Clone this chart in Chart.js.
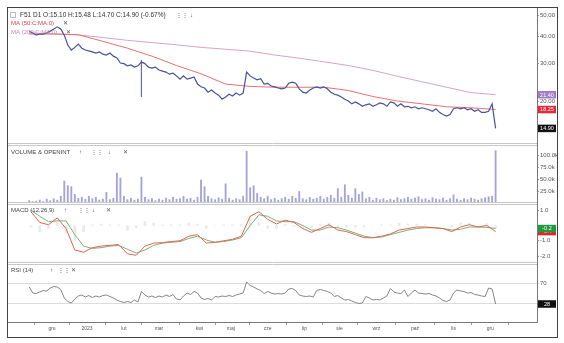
<!DOCTYPE html>
<html>
<head>
<meta charset="utf-8">
<script src="https://cdn.jsdelivr.net/npm/chart.js@4/dist/chart.umd.min.js"></script>
<style>
  html, body { margin: 0; padding: 0; background: #fff; }
  canvas { display: block; }
</style>
</head>
<body>
<canvas id="chart" width="564" height="343"></canvas>
<script>
// x axis = trading day index (0 = mid Nov 2022)
const priceStep = 2;
const price = [
  42.4, 41.6, 40.6, 41.1, 41.1, 41.6, 42.4, 43.4, 44.4, 43.4,
  40.6, 36.5, 34.6, 35.6, 36.9, 35.3, 34.6, 34.3, 33.9, 33.5,
  33.9, 33.1, 32.8, 33.5, 32.4, 31.8, 30.1, 29.9, 29.2, 29.5,
  28.8, 29.2, 30.4, 29.9, 28.8, 28.5, 28.8, 27.9, 27.6, 27.3,
  26.7, 27.0, 26.2, 25.3, 26.2, 25.3, 25.6, 25.9, 24.0, 23.3,
  23.0, 22.0, 22.5, 21.8, 21.3, 20.4, 20.9, 21.5, 21.1, 21.8,
  21.3, 21.8, 27.3, 26.2, 25.6, 25.1, 25.4, 24.0, 24.2, 23.5,
  23.3, 23.0, 22.8, 23.0, 24.2, 24.5, 24.2, 22.8, 22.0, 21.8,
  22.5, 23.0, 23.3, 23.0, 23.3, 22.8, 22.0, 21.5, 21.3, 20.9,
  20.4, 20.0, 19.4, 19.8, 19.4, 18.9, 19.2, 19.4, 18.9, 19.2,
  19.6, 19.4, 18.9, 19.8, 19.6, 18.9, 19.4, 18.8, 18.9, 18.6,
  18.8, 18.4, 18.6, 18.4, 18.2, 17.9, 18.4, 17.7, 17.3, 17.0,
  17.3, 18.4, 18.6, 18.4, 18.6, 18.2, 18.4, 17.9, 18.2, 17.7,
  17.7, 17.9, 19.4, 14.9
];
// volume in thousands
const volume = [
  5, 3, 4, 6, 3, 8, 5, 9, 6, 14,
  46, 36, 34, 18, 10, 12, 8, 14, 9, 12,
  6, 8, 22, 7, 10, 62, 52, 14, 7, 10,
  6, 8, 54, 12, 7, 9, 5, 8, 6, 10,
  7, 12, 8, 9, 14, 8, 10, 6, 12, 48,
  34, 14, 9, 7, 11, 8, 40, 10, 6, 9,
  7, 14, 108, 32, 36, 20, 12, 9, 14, 7,
  10, 6, 9, 12, 8, 14, 10, 24, 9, 7,
  12, 8, 10, 14, 8, 12, 16, 10, 30, 12,
  38, 16, 10, 30, 18, 23, 9, 12, 6, 10,
  7, 9, 5, 8, 6, 11, 7, 9, 12, 8,
  10, 13, 7, 9, 6, 11, 8, 7, 10, 6,
  9, 17, 8, 6, 9, 7, 10, 8, 6, 9,
  11, 13, 14, 109
];
const rsi = [
  62, 50, 49, 52, 55, 54, 60, 63, 62, 57,
  40, 33, 30, 38, 44, 46, 42, 45, 41, 44,
  42, 45, 46, 43, 40, 36, 33, 31, 33, 31,
  36, 32, 53, 46, 42, 44, 41, 44, 42, 46,
  43, 47, 38, 36, 44, 50, 47, 53, 50, 40,
  37, 39, 36, 43, 42, 44, 43, 45, 43, 46,
  48, 50, 72, 65, 62, 58, 55, 49, 53, 50,
  48, 49, 48, 50, 58, 59, 55, 46, 44, 43,
  44, 42, 55, 57, 55, 53, 50, 43, 45, 40,
  36, 37, 34, 31, 29, 30, 43, 40, 36, 37,
  36, 40, 44, 59, 52, 50, 49, 56, 43, 50,
  56, 50, 49, 48, 49, 46, 44, 40, 35, 33,
  36, 50, 56, 54, 53, 50, 51, 47, 46, 44,
  43, 60, 58, 28
];

const macdStart = 1;
const macdStep = 5;
const macd = [
  0.9, 0.2, 0.05, 0.5, -0.2, -1.6, -1.75, -1.45, -1.35, -1.3,
  -1.25, -1.85, -1.95, -1.35, -1.15, -1.12, -1.05, -1.0, -0.7, -0.6,
  -1.15, -1.1, -1.0, -0.9, -0.7, 0.6, 0.9, 0.4, 0.1, 0.35,
  0.2, -0.2, -0.45, -0.2, 0.05, -0.3, -0.4, -0.6, -0.8, -0.8,
  -0.7, -0.55, -0.3, -0.2, -0.1, -0.1, -0.15, -0.2, -0.4, -0.1,
  0.05, -0.1, 0.0, -0.4
];
const signal = [
  1.0, 0.6, 0.25, 0.3, 0.3, -0.6, -1.35, -1.5, -1.45, -1.35,
  -1.3, -1.55, -1.8, -1.6, -1.3, -1.15, -1.1, -1.05, -0.85, -0.7,
  -0.95, -1.1, -1.05, -0.95, -0.8, 0.0, 0.7, 0.6, 0.3, 0.25,
  0.25, 0.0, -0.3, -0.3, -0.1, -0.15, -0.3, -0.5, -0.7, -0.8,
  -0.75, -0.6, -0.45, -0.3, -0.2, -0.15, -0.15, -0.2, -0.3, -0.25,
  -0.1, -0.1, -0.12, -0.2
];
const hist = [
  -0.1, -0.4, -0.2, 0.2, -0.5, -1.0, -0.4, 0.05, 0.1, 0.05,
  0.05, -0.3, -0.15, 0.25, 0.15, 0.03, 0.05, 0.05, 0.15, 0.1,
  -0.2, 0.0, 0.05, 0.05, 0.1, 0.6, 0.2, -0.2, -0.2, 0.1,
  -0.05, -0.2, -0.15, 0.1, 0.15, -0.15, -0.1, -0.1, -0.1, 0.0,
  0.05, 0.05, 0.15, 0.1, 0.1, 0.05, 0.0, 0.0, -0.1, 0.15,
  0.15, 0.0, 0.12, -0.2
];

const maStep = 14;
const ma50 = [41.1, 41.1, 40.8, 38.0, 35.3, 32.4, 29.3, 26.8, 24.0, 23.4,
  23.2, 23.2, 23.2, 22.4, 21.0, 20.0, 19.4, 18.8, 18.6, 18.25];
const ma200 = [41.6, 41.2, 40.7, 39.6, 38.4, 37.5, 36.6, 35.6, 34.9, 34.2,
  32.8, 31.7, 30.5, 29.3, 27.8, 26.1, 24.6, 23.2, 21.9, 21.4];

// long lower shadow on one session
const wickDay = 64;
const wickHigh = 31.1;
const wickLow = 20.9;

const monthDays = [13, 33, 54, 74, 97, 115, 136, 157, 177, 198, 220, 242, 263];
const monthLabels = ['gru', '2023', 'lut', 'mar', 'kwi', 'maj', 'cze', 'lip', 'sie', 'wrz', 'paź', 'lis', 'gru'];
const priceTicks = [20, 30, 40, 50];
const volTicks = [25, 50, 75, 100];
const macdTicks = [-2, -1, 1];
const rsiTicks = [30, 70];

const FONT = "'Liberation Sans', Arial, sans-serif";

const pts = (arr, step, start = 0) => arr.map((v, i) => ({ x: start + i * step, y: v }));
const last = arr => arr[arr.length - 1];

// Common right-hand axis
function yAxis(opts, ticks, fmt) {
  return Object.assign({
    position: 'right',
    stack: 'panels',
    bounds: 'data',
    afterFit: s => { s.width = 21; },
    afterBuildTicks: s => { s.ticks = ticks.map(v => ({ value: v })); },
    border: { display: true, color: '#777' },
    grid: { drawOnChartArea: false, tickLength: 2, color: '#999' },
    ticks: { font: { size: 6, family: FONT }, color: '#555', padding: 1, callback: fmt }
  }, opts);
}

function txt(ctx, s, x, y, color, size) {
  ctx.font = size + 'px ' + FONT;
  ctx.fillStyle = color;
  ctx.textAlign = 'left';
  ctx.textBaseline = 'middle';
  ctx.fillText(s, x, y);
}

function tag(ctx, scale, value, label, bg) {
  const y = scale.getPixelForValue(value);
  const x = scale.left + 1;
  ctx.fillStyle = bg;
  ctx.fillRect(x, y - 3.75, 18, 7.5);
  ctx.font = '5.5px ' + FONT;
  ctx.fillStyle = '#fff';
  ctx.textAlign = 'center';
  ctx.textBaseline = 'middle';
  ctx.fillText(label, x + 9, y + 0.3);
}

const decor = {
  id: 'decor',
  afterDraw(chart) {
    const { ctx, chartArea: a } = chart;
    const { yPrice, yVol, yMacd, yRsi } = chart.scales;
    ctx.save();

    // panel separators
    ctx.strokeStyle = '#c8c8c8';
    ctx.lineWidth = 1;
    [yVol.top, yMacd.top, yRsi.top].forEach(b => {
      const y = Math.round(b);
      ctx.beginPath();
      ctx.moveTo(a.left, y - 0.5); ctx.lineTo(a.right, y - 0.5);
      ctx.moveTo(a.left, y + 1.5); ctx.lineTo(a.right, y + 1.5);
      ctx.stroke();
    });

    // outer frame
    ctx.strokeStyle = '#444';
    ctx.strokeRect(7.5, 7.5, 550, 330);

    // price header + legend
    const pt = yPrice.top;
    ctx.strokeStyle = '#bbb';
    ctx.strokeRect(10.5, pt + 4.5, 5, 5);
    txt(ctx, 'F51 D1 O:15.10 H:15.48 L:14.70 C:14.90 (-0.67%)', 20, pt + 7, '#333', 6.5);
    txt(ctx, '⋮⋮', 176, pt + 7, '#555', 6);
    txt(ctx, '↓', 190, pt + 7, '#555', 6);
    txt(ctx, 'MA (50:C:MA:0)', 11, pt + 15, '#e03c3c', 6);
    txt(ctx, '✕', 63, pt + 15, '#555', 5.5);
    txt(ctx, 'MA (200:C:MA:0)', 11, pt + 24, '#c58ab6', 6);
    txt(ctx, '✕', 66, pt + 24, '#555', 5.5);

    // sub panel headers
    let y = yVol.top + 8;
    txt(ctx, 'VOLUME & OPENINT', 11, y, '#444', 6);
    txt(ctx, '↑', 79, y, '#555', 6);
    txt(ctx, '⋮⋮', 91, y, '#555', 6);
    txt(ctx, '↓', 108, y, '#555', 6);
    txt(ctx, '✕', 123, y, '#555', 5.5);

    y = yMacd.top + 7;
    txt(ctx, 'MACD (12,26,9)', 11, y, '#444', 6);
    txt(ctx, '↑', 64, y, '#555', 6);
    txt(ctx, '⋮⋮', 78, y, '#555', 6);
    txt(ctx, '↓', 92, y, '#555', 6);
    txt(ctx, '✕', 106, y, '#555', 5.5);

    y = yRsi.top + 8;
    txt(ctx, 'RSI (14)', 11, y, '#444', 6);
    txt(ctx, '↑', 50, y, '#555', 6);
    txt(ctx, '⋮⋮', 58, y, '#555', 6);
    txt(ctx, '✕', 71, y, '#555', 5.5);

    // last value tags
    tag(ctx, yPrice, last(ma200), last(ma200).toFixed(2), '#a27cc4');
    tag(ctx, yPrice, last(ma50), last(ma50).toFixed(2), '#e8283a');
    tag(ctx, yPrice, last(price), last(price).toFixed(2), '#111');
    tag(ctx, yMacd, last(macd), last(macd).toFixed(1), '#e02828');
    tag(ctx, yMacd, last(signal), last(signal).toFixed(1), '#1f9a40');
    tag(ctx, yRsi, last(rsi), String(last(rsi)), '#111');

    ctx.restore();
  }
};

const line = (data, yAxisID, color, width) => ({
  type: 'line', data, yAxisID, borderColor: color, borderWidth: width,
  pointRadius: 0, tension: 0, fill: false
});

new Chart(document.getElementById('chart'), {
  data: {
    datasets: [
      line(pts(price, priceStep), 'yPrice', '#48529a', 1.2),
      line([{ x: wickDay, y: wickHigh }, { x: wickDay, y: wickLow }], 'yPrice', '#6a72a8', 1),
      line(pts(ma50, maStep), 'yPrice', '#e07272', 1),
      line(pts(ma200, maStep), 'yPrice', '#d7a3c3', 1),
      {
        type: 'bar', data: pts(volume, priceStep), yAxisID: 'yVol',
        backgroundColor: '#a4a4d8', barThickness: 1.2, grouped: false
      },
      line(pts(macd, macdStep, macdStart), 'yMacd', '#e0644e', 1),
      line(pts(signal, macdStep, macdStart), 'yMacd', '#78b078', 1),
      {
        type: 'bar', data: pts(hist, macdStep, macdStart), yAxisID: 'yMacd',
        backgroundColor: 'rgba(160,160,160,0.22)', barThickness: 2, grouped: false
      },
      line(pts(rsi, priceStep), 'yRsi', '#858585', 1)
    ]
  },
  options: {
    responsive: false,
    animation: false,
    devicePixelRatio: 1,
    layout: { padding: { left: 8, top: 8, right: 6, bottom: 5 } },
    plugins: { legend: { display: false }, tooltip: { enabled: false } },
    scales: {
      x: {
        type: 'linear', min: -0.5, max: 278, bounds: 'data',
        afterFit: s => { s.height = 16; },
        afterBuildTicks: s => { s.ticks = monthDays.map(v => ({ value: v })); },
        border: { display: true, color: '#777' },
        grid: { drawOnChartArea: false, tickLength: 3, color: '#999' },
        ticks: {
          autoSkip: false, maxRotation: 0, padding: 1,
          font: { size: 5, family: FONT }, color: '#555',
          callback: (v, i) => monthLabels[i]
        }
      },
      yPrice: yAxis({ type: 'logarithmic', min: 12.6, max: 54.37, stackWeight: 136 },
        priceTicks, v => v.toFixed(2)),
      yVol: yAxis({ type: 'linear', min: 0, max: 123, stackWeight: 59 },
        volTicks, v => v.toFixed(1) + 'k'),
      yMacd: yAxis({ type: 'linear', min: -2.42, max: 1.47, stackWeight: 59.5 },
        macdTicks, v => v.toFixed(1)),
      yRsi: Object.assign(yAxis({ type: 'linear', min: -8, max: 111, stackWeight: 59.5 },
        rsiTicks, v => String(v)), {
        grid: { drawOnChartArea: true, tickLength: 2, color: '#dcdcdc' }
      })
    }
  },
  plugins: [decor]
});
</script>
</body>
</html>
